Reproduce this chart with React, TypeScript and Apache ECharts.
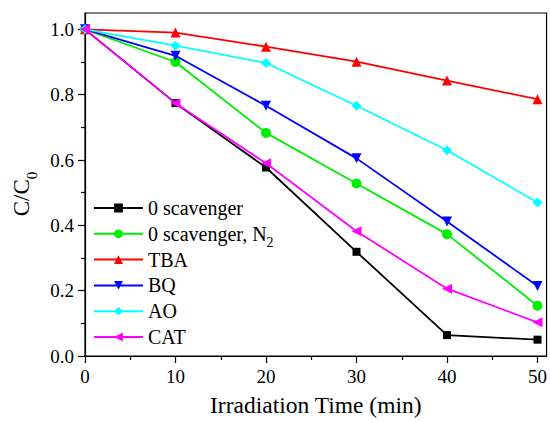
import React, { useEffect, useRef } from 'react';
import * as echarts from 'echarts';

const times = [0, 10, 20, 30, 40, 50];
const seriesNames = ['0 scavenger', '0 scavenger, N2', 'TBA', 'BQ', 'AO', 'CAT'];
const noScavenger = [1.0, 0.774, 0.577, 0.319, 0.064, 0.05];
const nitrogen = [1.0, 0.9, 0.683, 0.528, 0.373, 0.154];
const tba = [1.0, 0.99, 0.947, 0.901, 0.843, 0.786];
const bq = [1.0, 0.919, 0.766, 0.605, 0.412, 0.214];
const ao = [1.0, 0.95, 0.897, 0.766, 0.63, 0.47];
const cat = [1.0, 0.774, 0.59, 0.382, 0.206, 0.103];
const xTicks = [0, 10, 20, 30, 40, 50];
const xMinorTicks = [5, 15, 25, 35, 45];
const yTicks = [0, 0.2, 0.4, 0.6, 0.8, 1.0];
const yMinorTicks = [0.1, 0.3, 0.5, 0.7, 0.9];

const FONT = 'Liberation Serif';

export default function App() {
  const ref = useRef<HTMLDivElement>(null);
  useEffect(() => {
    if (!ref.current) return;
    document.body.style.margin = '0';
    const chart = echarts.init(ref.current, undefined, { renderer: 'svg' });
    const values = [noScavenger, nitrogen, tba, bq, ao, cat];
    const colors = ['#000000', '#00ee00', '#ff0000', '#0000ff', '#00ffff', '#ff00ff'];
    const symbols = [
      'rect',
      'circle',
      'triangle',
      'path://M0,0L10,0L5,9Z',
      'diamond',
      'path://M0,5L9,0L9,10Z',
    ];
    const sizes = [8, 10, 10, 10, 10, 10];
    const series = values.map((vals, i) => ({
      name: seriesNames[i],
      type: 'line',
      xAxisIndex: 0,
      yAxisIndex: 0,
      data: times.map((t, j) => [t, vals[j]]),
      symbol: symbols[i],
      symbolSize: sizes[i],
      showSymbol: true,
      lineStyle: { color: colors[i], width: 1.8 },
      itemStyle: { color: colors[i], borderWidth: 0 },
      z: 2 + i,
    }));
    const axisCommon = {
      axisLine: { show: true, onZero: false, lineStyle: { color: '#000', width: 1.2 } },
      splitLine: { show: false },
    };
    const legends = seriesNames.map((name, i) => ({
      orient: 'vertical',
      left: 88,
      top: 193 + i * 25.8,
      padding: 5,
      itemWidth: 49,
      itemHeight: 11,
      data: [name],
      formatter: (n: string) => (n === '0 scavenger, N2' ? '0 scavenger, N{sub|2}' : n),
      textStyle: {
        fontSize: 20,
        lineHeight: 20,
        fontFamily: FONT,
        color: '#000',
        rich: {
          sub: {
            fontSize: 14,
            lineHeight: 14,
            fontFamily: FONT,
            color: '#000',
            verticalAlign: 'bottom',
            padding: [0, 0, -6, 0],
          },
        },
      },
    }));
    chart.setOption({
      animation: false,
      backgroundColor: '#fff',
      textStyle: { fontFamily: FONT },
      grid: {
        left: 85,
        right: 1,
        top: 13,
        bottom: 61,
        show: true,
        borderColor: '#000',
        borderWidth: 1.2,
        backgroundColor: 'transparent',
      },
      xAxis: [
        {
          type: 'value',
          min: 0,
          max: 51,
          interval: 10,
          ...axisCommon,
          axisTick: { show: true, inside: false, length: 7, customValues: xTicks, lineStyle: { color: '#000', width: 1.2 } },
          axisLabel: {
            customValues: xTicks,
            margin: 11,
            fontSize: 19,
            fontFamily: FONT,
            color: '#000',
          },
          name: 'Irradiation Time (min)',
          nameLocation: 'middle',
          nameGap: 37,
          nameTextStyle: { fontSize: 23.5, fontFamily: FONT, color: '#000' },
        },
        {
          type: 'value',
          min: 0,
          max: 51,
          interval: 10,
          position: 'bottom',
          axisLine: { show: false },
          splitLine: { show: false },
          axisLabel: { show: false },
          axisTick: { show: true, length: 4, customValues: xMinorTicks, lineStyle: { color: '#000', width: 1.2 } },
        },
      ],
      yAxis: [
        {
          type: 'value',
          min: 0,
          max: 1.05,
          interval: 0.2,
          ...axisCommon,
          axisTick: { show: true, inside: false, length: 7, customValues: yTicks, lineStyle: { color: '#000', width: 1.2 } },
          axisLabel: {
            customValues: yTicks,
            margin: 11,
            fontSize: 19,
            fontFamily: FONT,
            color: '#000',
            formatter: (v: number) => v.toFixed(1),
          },
        },
        {
          type: 'value',
          min: 0,
          max: 1.05,
          interval: 0.2,
          position: 'left',
          axisLine: { show: false },
          splitLine: { show: false },
          axisLabel: { show: false },
          axisTick: { show: true, length: 4, customValues: yMinorTicks, lineStyle: { color: '#000', width: 1.2 } },
        },
      ],
      legend: legends,
      graphic: [
        {
          type: 'text',
          x: 21,
          y: 194,
          rotation: Math.PI / 2,
          style: {
            text: 'C/C{sub|0}',
            fontSize: 23,
            lineHeight: 24,
            fontFamily: FONT,
            fill: '#000',
            align: 'center',
            verticalAlign: 'middle',
            rich: {
              sub: {
                fontSize: 15,
                lineHeight: 15,
                fontFamily: FONT,
                fill: '#000',
                verticalAlign: 'bottom',
                padding: [0, 0, -6, 0],
              },
            },
          },
        },
      ],
      series,
    });
    return () => chart.dispose();
  }, []);
  return <div ref={ref} style={{ width: 550, height: 422 }} />;
}
